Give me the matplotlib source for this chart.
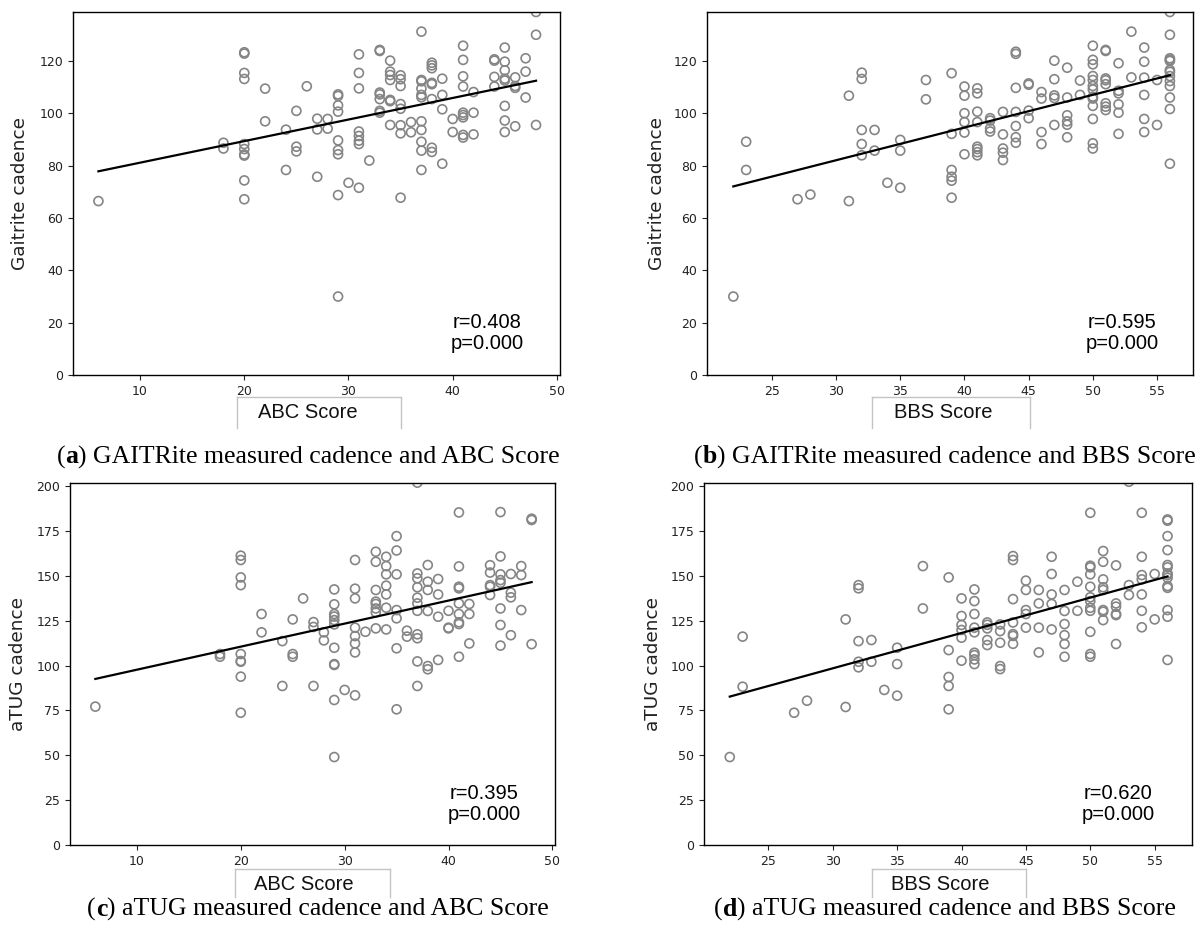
import numpy as np
import matplotlib
matplotlib.use("Agg")
import matplotlib.pyplot as plt
from matplotlib.lines import Line2D

# ---------------- data ----------------
# Panel (a): ABC score vs GAITRite cadence
abc_a = ([6] + [18]*2 + [20]*10 + [22]*2 + [24]*2 + [25]*3 + [26] + [27]*3 + [28]*2 + [29]*9 + [30] + [31]*8
         + [32] + [33]*7 + [34]*7 + [35]*8 + [36]*2 + [37]*11 + [38]*8 + [39]*4 + [40]*2 + [41]*9 + [42]*3
         + [44]*4 + [45]*8 + [46]*4 + [47]*3 + [48]*3)
gait_a = [66.5,
          88.8, 86.6,
          123.4, 122.9, 115.5, 113.2, 88.3, 86.4, 84.3, 83.9, 74.4, 67.2,
          109.5, 97.0,
          93.8, 78.4,
          101.0, 87.3, 85.5,
          110.4,
          98.0, 93.9, 75.8,
          97.9, 94.2,
          107.3, 106.7, 103.1, 100.7, 89.7, 86.0, 84.4, 68.8, 30.0,
          73.5,
          122.6, 115.5, 109.6, 93.1, 91.4, 89.6, 88.3, 71.6,
          82.0,
          124.3, 123.9, 108.0, 107.3, 105.5, 101.0, 100.3,
          120.2, 116.0, 114.7, 112.8, 105.2, 104.7, 95.6,
          114.6, 113.1, 110.5, 103.6, 101.8, 95.5, 92.4, 67.8,
          96.7, 92.8,
          131.3, 112.8, 112.3, 109.5, 107.1, 106.2, 97.0, 93.7, 89.2, 85.8, 78.4,
          119.4, 118.4, 117.3, 111.7, 111.2, 105.5, 86.9, 85.3,
          113.3, 107.1, 101.6, 80.8,
          97.9, 92.9,
          125.9, 120.5, 114.2, 110.3, 100.3, 99.4, 98.5, 91.8, 90.8,
          108.2, 100.3, 92.0,
          120.7, 120.2, 114.0, 110.3,
          125.2, 119.8, 116.5, 113.3, 112.6, 102.9, 97.3, 92.9,
          113.8, 110.5, 109.8, 95.1,
          121.1, 116.0, 106.1,
          138.8, 130.1, 95.6]

# Panel (b): BBS score vs GAITRite cadence
bbs_b = ([22] + [23]*2 + [27] + [28] + [31]*2 + [32]*5 + [33]*2 + [34] + [35]*3 + [37]*2 + [39]*6 + [40]*6
         + [41]*8 + [42]*4 + [43]*5 + [44]*7 + [45]*4 + [46]*4 + [47]*5 + [48]*6 + [49]*2 + [50]*13
         + [51]*8 + [52]*6 + [53]*2 + [54]*6 + [55]*2 + [56]*13)
gait_b = [30.0,
          89.2, 78.4,
          67.2,
          69.0,
          106.8, 66.5,
          115.6, 113.2, 93.7, 88.3, 84.0,
          93.7, 85.8,
          73.5,
          89.9, 85.8, 71.6,
          112.8, 105.4,
          115.4, 92.2, 78.4, 75.8, 74.3, 67.8,
          110.3, 106.8, 100.1, 96.7, 92.7, 84.4,
          109.6, 107.7, 100.7, 96.7, 87.3, 86.4, 85.2, 84.0,
          98.2, 97.3, 94.3, 93.1,
          100.6, 92.0, 86.6, 85.0, 82.2,
          123.6, 122.8, 109.8, 100.6, 95.2, 90.9, 88.8,
          111.5, 111.0, 101.1, 98.2,
          108.2, 105.7, 92.9, 88.3,
          120.2, 113.1, 106.9, 105.9, 95.6,
          117.5, 106.1, 99.3, 97.0, 95.7, 90.9,
          112.6, 107.1,
          125.9, 120.5, 118.8, 114.3, 112.8, 110.5, 109.2, 106.4, 105.7, 102.9, 97.9, 88.6, 86.6,
          124.3, 123.9, 113.4, 112.7, 111.2, 103.9, 102.6, 101.3,
          119.2, 108.7, 107.7, 103.5, 100.3, 92.2,
          131.3, 113.8,
          125.2, 119.8, 113.7, 107.1, 97.9, 92.9,
          112.8, 95.6,
          138.8, 130.1, 121.1, 120.5, 120.1, 116.6, 115.9, 114.3, 112.4, 110.5, 106.1, 101.7, 80.8]

# Panel (c): ABC score vs aTUG cadence
abc_c = ([6] + [18]*2 + [20]*9 + [22]*2 + [24]*2 + [25]*3 + [26] + [27]*3 + [28]*2 + [29]*11 + [30] + [31]*8
         + [32] + [33]*8 + [34]*7 + [35]*7 + [36]*2 + [37]*11 + [38]*6 + [39]*4 + [40]*3 + [41]*9 + [42]*3
         + [44]*5 + [45]*8 + [46]*4 + [47]*3 + [48]*3)
atug_c = [77.1,
          106.4, 104.9,
          161.2, 158.8, 149.1, 144.8, 106.4, 102.5, 102.1, 93.8, 73.7,
          128.7, 118.5,
          113.6, 88.6,
          125.7, 106.4, 104.9,
          137.4,
          124.2, 121.5, 88.6,
          118.5, 114.0,
          142.4, 134.1, 128.7, 127.3, 125.3, 122.9, 109.9, 100.8, 100.3, 80.8, 49.0,
          86.4,
          158.8, 142.8, 137.4, 121.1, 116.4, 112.3, 107.3, 83.4,
          118.8,
          163.4, 157.8, 142.1, 135.6, 134.3, 131.8, 129.6, 120.7,
          160.6, 155.4, 150.8, 144.5, 139.6, 132.2, 120.1,
          172.1, 164.1, 150.8, 130.9, 126.3, 109.6, 75.6,
          119.4, 116.1,
          201.9, 151.3, 148.6, 143.6, 137.8, 134.6, 130.5, 117.4, 115.2, 102.3, 88.6,
          156.0, 146.7, 142.1, 130.4, 99.7, 97.9,
          148.2, 139.6, 127.2, 103.1,
          130.5, 121.1, 120.7,
          185.3, 155.2, 143.9, 143.0, 134.6, 128.7, 124.1, 123.1, 104.9,
          134.3, 128.7, 112.3,
          155.9, 151.8, 144.8, 143.9, 139.3,
          185.5, 160.8, 150.8, 147.6, 146.1, 131.8, 122.6, 111.1,
          151.0, 140.6, 138.0, 116.9,
          155.4, 150.4, 130.9,
          181.8, 181.1, 111.9]

# Panel (d): BBS score vs aTUG cadence
bbs_d = ([22] + [23]*2 + [27] + [28] + [31]*2 + [32]*5 + [33]*2 + [34] + [35]*3 + [37]*2 + [39]*5 + [40]*6
         + [41]*9 + [42]*5 + [43]*5 + [44]*7 + [45]*5 + [46]*4 + [47]*5 + [48]*6 + [49]*2 + [50]*12
         + [51]*8 + [52]*6 + [53]*3 + [54]*7 + [55]*2 + [56]*14)
atug_d = [49.0,
          116.1, 88.2,
          73.7,
          80.4,
          125.7, 76.9,
          144.8, 143.0, 113.6, 102.1, 99.0,
          114.2, 102.1,
          86.4,
          109.9, 100.8, 83.2,
          155.4, 131.8,
          149.1, 108.6, 93.6, 88.6, 75.6,
          137.4, 127.6, 122.6, 119.8, 115.5, 102.7,
          142.4, 135.9, 128.7, 121.1, 118.5, 107.1, 105.8, 103.4, 100.8,
          124.0, 122.7, 120.7, 114.2, 111.4,
          122.9, 119.2, 112.7, 99.7, 98.0,
          161.0, 158.8, 137.0, 124.0, 117.5, 116.5, 112.1,
          147.3, 142.1, 130.9, 128.7, 121.1,
          142.1, 134.6, 121.1, 107.3,
          160.6, 151.0, 139.6, 134.3, 120.1,
          142.1, 130.4, 123.1, 116.9, 112.0, 104.9,
          146.7, 130.5,
          185.1, 155.6, 154.7, 150.8, 143.9, 138.0, 135.9, 132.2, 130.5, 118.8, 106.4, 104.9,
          163.8, 157.8, 148.0, 143.6, 142.1, 130.9, 130.0, 125.3,
          155.8, 134.6, 132.8, 128.7, 128.1, 112.0,
          202.4, 144.8, 139.3,
          185.1, 160.6, 150.4, 148.0, 139.6, 130.5, 121.3,
          151.0, 125.7,
          181.4, 180.7, 172.1, 164.3, 156.0, 154.7, 151.3, 150.4, 148.9, 144.3, 143.3, 130.9, 127.2, 103.1]

stats_text = ["r=0.408\np=0.000", "r=0.595\np=0.000", "r=0.395\np=0.000", "r=0.620\np=0.000"]
ylabels = ["Gaitrite cadence", "Gaitrite cadence", "aTUG cadence", "aTUG cadence"]
xlabels = ["ABC Score", "BBS Score", "ABC Score", "BBS Score"]
letters = ["a", "b", "c", "d"]
captions = [" GAITRite measured cadence and ABC Score", " GAITRite measured cadence and BBS Score",
            " aTUG measured cadence and ABC Score", " aTUG measured cadence and BBS Score"]
xticks_abc = [10, 20, 30, 40, 50]
xticks_bbs = [25, 30, 35, 40, 45, 50, 55]
yticks_gait = [0, 20, 40, 60, 80, 100, 120]
yticks_atug = [0, 25, 50, 75, 100, 125, 150, 175, 200]

# ---------------- layout (pixels in a 1196x939 canvas) ----------------
W, H = 1196, 939
fig = plt.figure(figsize=(W / 100, H / 100), dpi=100)
plt.rcParams['font.family'] = ['DejaVu Sans']

def fx(px):
    return px / W

def fy(py):
    return 1 - py / H

# axes boxes: left, top, right, bottom (px)
boxes = [(73, 12, 560, 375), (707, 12, 1193, 375), (70, 483, 555, 845), (704, 483, 1192, 845)]
xlims = [(3.56, 50.3), (19.95, 57.8), (3.56, 50.25), (20.0, 57.9)]
ylims = [(0, 138.8), (0, 138.8), (0, 201.7), (0, 201.7)]
stat_pos = [(487, 333), (1122, 333), (484, 804), (1118, 804)]
ylab_x = [20, 657, 18, 653]
xlab_box = [(237, 401, 397, 428), (872, 1030, 397, 428), (235, 390, 869, 897), (872, 1026, 869, 897)]
xlab_txt = [(308, 413), (943, 413), (304, 884), (940, 884)]
cap_pos = [(308, 457), (945, 457), (318, 909), (945, 909)]

datasets = [(abc_a, gait_a), (bbs_b, gait_b), (abc_c, atug_c), (bbs_d, atug_d)]
xticks_all = [xticks_abc, xticks_bbs, xticks_abc, xticks_bbs]
yticks_all = [yticks_gait, yticks_gait, yticks_atug, yticks_atug]

for i in range(4):
    l, t, r, b = boxes[i]
    ax = fig.add_axes([fx(l), fy(b), (r - l) / W, (b - t) / H])
    xs = np.array(datasets[i][0], dtype=float)
    ys = np.array(datasets[i][1], dtype=float)
    ax.scatter(xs, ys, s=42, facecolors='none', edgecolors='#858585', linewidths=1.2, zorder=2)
    k, c0 = np.polyfit(xs, ys, 1)
    xl = np.array([xs.min(), xs.max()])
    ax.plot(xl, k * xl + c0, color='black', lw=1.6, zorder=3)
    ax.set_xlim(*xlims[i])
    ax.set_ylim(*ylims[i])
    ax.set_xticks(xticks_all[i])
    ax.set_yticks(yticks_all[i])
    ax.tick_params(labelsize=9, length=3.5, width=0.8, colors='#222222')
    for sp in ax.spines.values():
        sp.set_linewidth(1.0)
        sp.set_color('black')
    # statistics
    sx, sy = stat_pos[i]
    fig.text(fx(sx), fy(sy), stats_text[i], ha='center', va='center', multialignment='center',
             family='Liberation Sans', fontsize=14.5, linespacing=1.1)
    # y label
    fig.text(fx(ylab_x[i]), fy((t + b) / 2), ylabels[i], rotation=90, ha='center', va='center',
             family='DejaVu Sans', fontsize=13.3, color='#222222')
    # x label box
    bl, br, bt, bb = xlab_box[i]
    for (x0, y0, x1, y1) in [(bl, bb, bl, bt), (bl, bt, br, bt), (br, bt, br, bb)]:
        fig.add_artist(Line2D([fx(x0), fx(x1)], [fy(y0), fy(y1)], transform=fig.transFigure,
                              color='#c4c4c4', lw=1.0))
    tx, ty = xlab_txt[i]
    fig.text(fx(tx), fy(ty), xlabels[i], ha='center', va='center', family='Liberation Sans',
             fontsize=14.5, color='#111111')

# captions: "(" + bold letter + ")" + rest, centered at cap_pos
renderer = fig.canvas.get_renderer()
cap_font = dict(family='Liberation Serif', fontsize=18.5, color='black')
for i in range(4):
    cx, cy = cap_pos[i]
    pieces = [("(", 'normal'), (letters[i], 'bold'), (")" + captions[i], 'normal')]
    arts = []
    widths = []
    for txt, wt in pieces:
        a = fig.text(0, fy(cy), txt, ha='left', va='center', fontweight=wt, **cap_font)
        arts.append(a)
        widths.append(a.get_window_extent(renderer).width)
    total = sum(widths)
    x = cx - total / 2
    for a, w in zip(arts, widths):
        a.set_x(fx(x))
        x += w

fig.savefig("out.png", dpi=100)
